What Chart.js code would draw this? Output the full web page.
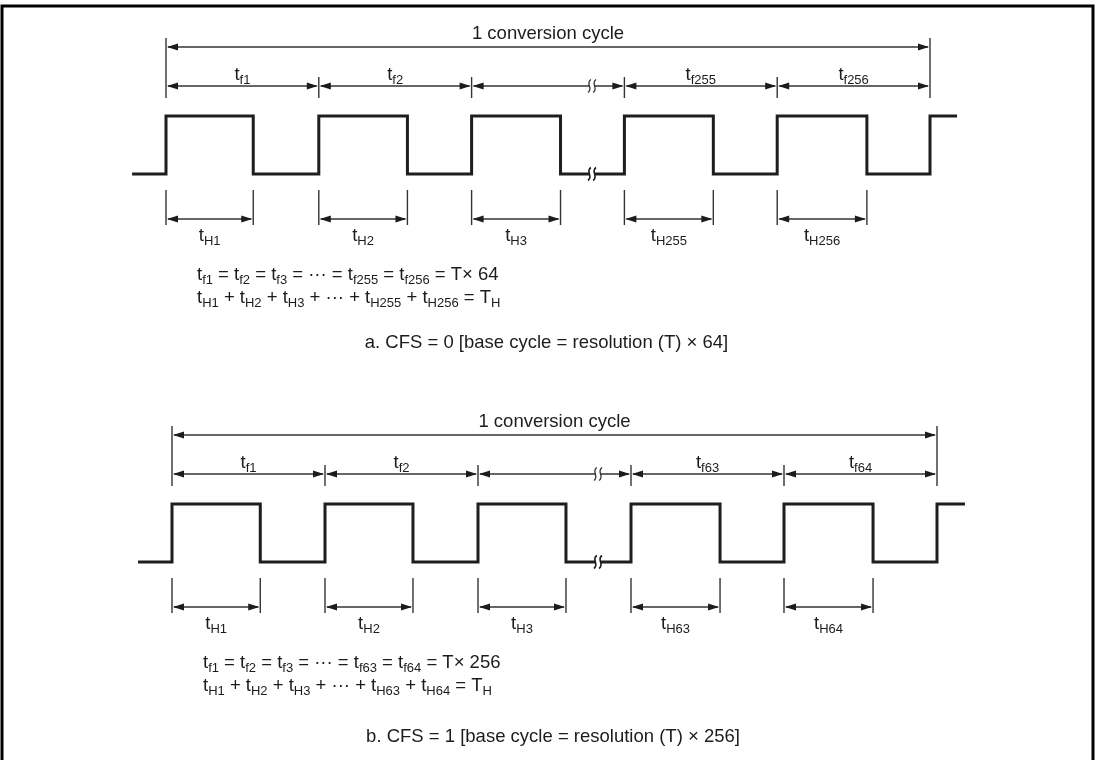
<!DOCTYPE html>
<html>
<head>
<meta charset="utf-8">
<script src="https://cdn.jsdelivr.net/npm/chart.js@4"></script>
<style>
  html, body { margin: 0; padding: 0; background: #fff; }
  canvas { display: block; }
</style>
</head>
<body>
<canvas id="timing" width="1099" height="760"></canvas>
<script>
// values, times in base cycles
const panels = ["a", "b"];
const cfsValues = [0, 1];
const cycleCounts = [256, 64];
const baseMultipliers = [64, 256];
const cycleEdges = [0, 1, 2, 3, 4, 5];
const highTimesA = [0.571, 0.580, 0.582, 0.582, 0.587];
const highTimesB = [0.577, 0.575, 0.575, 0.582, 0.582];
const breakTimes = [2.788, 2.784];
const waveStarts = [-0.222, -0.222];
const waveEnds = [5.177, 5.183];

const highTimes = [highTimesA, highTimesB];

// page layout (pixels)
const layout = [
  { originPx: 166, unitPx: 152.8, highPx: 116, levelPx: 58, captionY: 348 },
  { originPx: 172, unitPx: 153.0, highPx: 504, levelPx: 58, captionY: 742 }
];

const W = 1099, H = 760;
const MAIN_FONT = "18.5px 'Liberation Sans', Arial, sans-serif";
const SUB_FONT = "13px 'Liberation Sans', Arial, sans-serif";
const INK = "#1c1c1c";
const LINE = "#333";

function cycleNumbers(n) {
  return [1, 2, 3, n - 1, n];
}

function wavePoints(i) {
  const pts = [{ x: waveStarts[i], y: 0 }];
  highTimes[i].forEach((w, k) => {
    const t = cycleEdges[k];
    pts.push({ x: t, y: 0 }, { x: t, y: 1 }, { x: t + w, y: 1 }, { x: t + w, y: 0 });
  });
  const last = cycleEdges[cycleEdges.length - 1];
  pts.push({ x: last, y: 0 }, { x: last, y: 1 }, { x: waveEnds[i], y: 1 });
  return pts;
}

// text with _{...} subscripts
function richParts(str) {
  const out = [];
  const re = /_\{([^}]*)\}/g;
  let pos = 0, m;
  while ((m = re.exec(str))) {
    if (m.index > pos) out.push([str.slice(pos, m.index), false]);
    out.push([m[1], true]);
    pos = re.lastIndex;
  }
  if (pos < str.length) out.push([str.slice(pos), false]);
  return out;
}

function drawRich(ctx, str, x, y, align) {
  const parts = richParts(str);
  let w = 0;
  parts.forEach(([s, sub]) => {
    ctx.font = sub ? SUB_FONT : MAIN_FONT;
    w += ctx.measureText(s).width;
  });
  let cx = align === "center" ? x - w / 2 : x;
  ctx.textAlign = "left";
  ctx.textBaseline = "alphabetic";
  ctx.fillStyle = INK;
  parts.forEach(([s, sub]) => {
    ctx.font = sub ? SUB_FONT : MAIN_FONT;
    ctx.fillText(s, cx, sub ? y + 4 : y);
    cx += ctx.measureText(s).width;
  });
}

function vline(ctx, x, y1, y2) {
  ctx.beginPath();
  ctx.moveTo(x, y1);
  ctx.lineTo(x, y2);
  ctx.stroke();
}

function head(ctx, x, y, dir) {
  ctx.fillStyle = "#1c1c1c";
  ctx.beginPath();
  ctx.moveTo(x, y);
  ctx.lineTo(x - dir * 11, y - 3.6);
  ctx.lineTo(x - dir * 11, y + 3.6);
  ctx.closePath();
  ctx.fill();
}

function dimArrow(ctx, x1, x2, y) {
  ctx.beginPath();
  ctx.moveTo(x1 + 2, y);
  ctx.lineTo(x2 - 2, y);
  ctx.stroke();
  head(ctx, x1 + 1, y, -1);
  head(ctx, x2 - 1, y, 1);
}

function squiggle(ctx, x, y, width, color) {
  ctx.save();
  ctx.fillStyle = "#fff";
  ctx.fillRect(x - 2, y - 3, 4, 6);
  ctx.strokeStyle = color;
  ctx.lineWidth = width;
  [-2.6, 2.6].forEach(dx => {
    ctx.beginPath();
    ctx.moveTo(x + dx + 1.5, y - 6.5);
    ctx.bezierCurveTo(x + dx - 4.5, y - 2.5, x + dx + 4.5, y + 2.5, x + dx - 1.5, y + 6.5);
    ctx.stroke();
  });
  ctx.restore();
}

const annotations = {
  id: "annotations",
  afterDatasetsDraw(chart) {
    const ctx = chart.ctx;
    ctx.save();

    panels.forEach((p, i) => {
      const xs = chart.scales["x" + p], ys = chart.scales["y" + p];
      const X = t => xs.getPixelForValue(t);
      const hiY = ys.getPixelForValue(1), loY = ys.getPixelForValue(0);
      const n = cycleCounts[i];
      const nums = cycleNumbers(n);
      const first = X(cycleEdges[0]), last = X(cycleEdges[cycleEdges.length - 1]);

      ctx.strokeStyle = LINE;
      ctx.lineWidth = 1.4;

      // 1 conversion cycle
      const longY = hiY - 69;
      vline(ctx, first, hiY - 78, hiY - 18);
      vline(ctx, last, hiY - 78, hiY - 18);
      dimArrow(ctx, first, last, longY);
      ctx.textAlign = "center";
      ctx.fillStyle = INK;
      ctx.font = MAIN_FONT;
      ctx.fillText("1 conversion cycle", (first + last) / 2, hiY - 77);

      // base cycles t_f
      const tfY = hiY - 30;
      for (let k = 1; k < cycleEdges.length - 1; k++) {
        vline(ctx, X(cycleEdges[k]), hiY - 39, hiY - 18);
      }
      for (let k = 0; k < cycleEdges.length - 1; k++) {
        const a = X(cycleEdges[k]), b = X(cycleEdges[k + 1]);
        dimArrow(ctx, a, b, tfY);
        if (k !== 2) drawRich(ctx, "t_{f" + nums[k] + "}", (a + b) / 2, hiY - 36, "center");
      }
      squiggle(ctx, X(breakTimes[i]), tfY, 1.3, LINE);
      squiggle(ctx, X(breakTimes[i]), loY, 1.6, "#1e1e1e");

      // high widths t_H
      ctx.strokeStyle = LINE;
      ctx.lineWidth = 1.4;
      highTimes[i].forEach((w, k) => {
        const a = X(cycleEdges[k]), b = X(cycleEdges[k] + w);
        vline(ctx, a, loY + 16, loY + 51);
        vline(ctx, b, loY + 16, loY + 51);
        dimArrow(ctx, a, b, loY + 45);
        drawRich(ctx, "t_{H" + nums[k] + "}", (a + b) / 2, loY + 67, "center");
      });

      // formulas
      const fx = first + 31;
      drawRich(ctx,
        "t_{f1} = t_{f2} = t_{f3} = \u00b7\u00b7\u00b7 = t_{f" + (n - 1) + "} = t_{f" + n + "} = T\u00d7 " + baseMultipliers[i],
        fx, loY + 106, "left");
      drawRich(ctx,
        "t_{H1} + t_{H2} + t_{H3} + \u00b7\u00b7\u00b7 + t_{H" + (n - 1) + "} + t_{H" + n + "} = T_{H}",
        fx, loY + 129, "left");

      // caption
      drawRich(ctx,
        p + ". CFS = " + cfsValues[i] + " [base cycle = resolution (T) \u00d7 " + baseMultipliers[i] + "]",
        (first + last) / 2 - 1.5, layout[i].captionY, "center");
    });

    // frame
    ctx.strokeStyle = "#000";
    ctx.lineWidth = 3;
    ctx.beginPath();
    ctx.moveTo(2, H);
    ctx.lineTo(2, 6);
    ctx.lineTo(1093, 6);
    ctx.lineTo(1093, H);
    ctx.stroke();

    ctx.restore();
  }
};

function xScale(l) {
  return {
    type: "linear", axis: "x", display: false,
    min: -l.originPx / l.unitPx,
    max: (W - l.originPx) / l.unitPx
  };
}

function yScale(l) {
  const max = 1 + l.highPx / l.levelPx;
  return { type: "linear", axis: "y", display: false, max: max, min: max - H / l.levelPx };
}

const scales = {};
panels.forEach((p, i) => {
  scales["x" + p] = xScale(layout[i]);
  scales["y" + p] = yScale(layout[i]);
});

new Chart(document.getElementById("timing").getContext("2d"), {
  type: "line",
  data: {
    datasets: panels.map((p, i) => ({
      label: "CFS = " + cfsValues[i],
      data: wavePoints(i),
      xAxisID: "x" + p,
      yAxisID: "y" + p,
      borderColor: "#1e1e1e",
      borderWidth: 3,
      borderJoinStyle: "miter",
      pointRadius: 0,
      tension: 0,
      fill: false
    }))
  },
  options: {
    responsive: false,
    animation: false,
    devicePixelRatio: 1,
    events: [],
    layout: { padding: 0 },
    plugins: { legend: { display: false }, tooltip: { enabled: false } },
    scales: scales
  },
  plugins: [annotations]
});
</script>
</body>
</html>
